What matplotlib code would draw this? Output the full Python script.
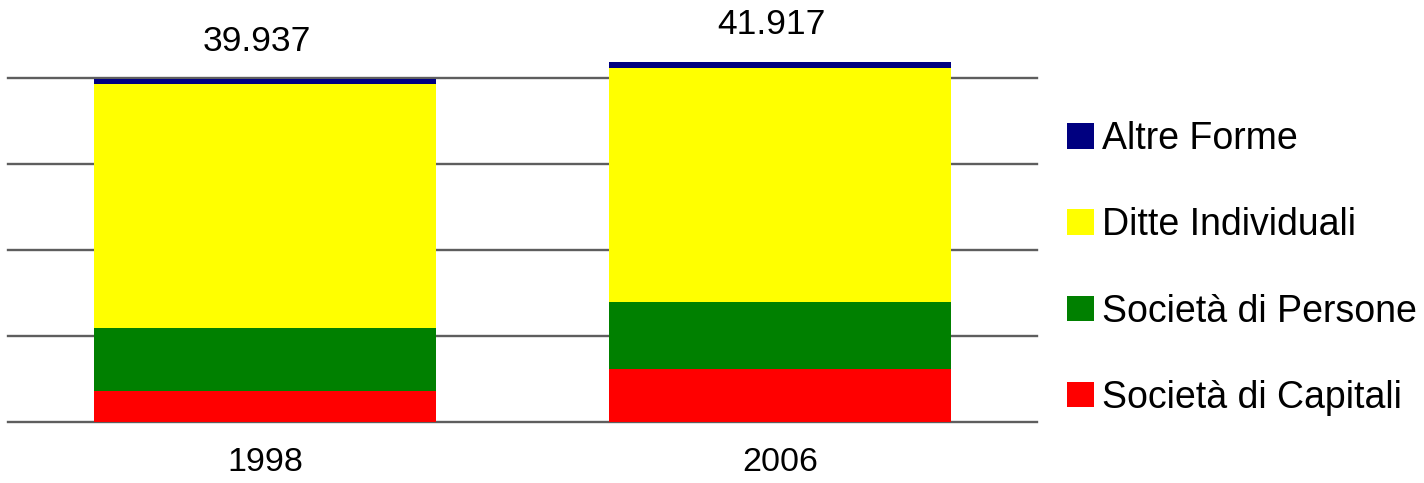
import matplotlib
matplotlib.use("Agg")
import matplotlib.pyplot as plt
import numpy as np

anni = ["1998", "2006"]
totali = ["39.937", "41.917"]
capitali = [3550, 6190]
persone = [7370, 7760]
ditte = [28390, 27230]
altre = [627, 737]

serie = [
    ("Società di Capitali", capitali, "#FF0000"),
    ("Società di Persone", persone, "#008000"),
    ("Ditte Individuali", ditte, "#FFFF00"),
    ("Altre Forme", altre, "#000080"),
]

plt.rcParams['font.family'] = ['Liberation Sans', 'DejaVu Sans']

fig = plt.figure(figsize=(14.24, 4.83), dpi=100)
ax = fig.add_axes([8/1424, 1 - 421.7/483, (1037 - 8)/1424, (421.7 - 8)/483])

x = np.arange(len(anni))
bottom = np.zeros(len(anni))
handles = []
for nome, vals, col in serie:
    b = ax.bar(x, vals, 0.665, bottom=bottom, color=col, label=nome, zorder=2)
    handles.append(b)
    bottom += np.array(vals)

# etichette dei totali sopra le barre
for i in range(len(anni)):
    ax.annotate(totali[i], (x[i], bottom[i]), xytext=(-6, 20), textcoords='offset points',
                ha='center', va='baseline', fontsize=25.5)

ax.set_xlim(-0.5, 1.5)
ax.set_ylim(0, 411.7 * 117.1)
ax.set_yticks([0, 10000, 20000, 30000, 40000])
ax.yaxis.grid(True, color='#5e5e5e', lw=1.7, zorder=1)
for gl in ax.yaxis.get_gridlines():
    gl.set_clip_on(False)
ax.set_yticklabels([])
ax.tick_params(axis='y', length=0)
ax.set_xticks(x)
ax.set_xticklabels(anni, fontsize=24.5)
ax.tick_params(axis='x', length=0, pad=18)
for s in ax.spines.values():
    s.set_visible(False)
ax.set_axisbelow(True)

fig.legend(handles[::-1], [s[0] for s in serie][::-1], loc='center left',
           bbox_to_anchor=(1067/1424, 1 - 268.5/483), frameon=False, fontsize=27,
           handlelength=0.72, handleheight=0.67, handletextpad=0.22,
           labelspacing=1.34, borderaxespad=0, borderpad=0)

fig.savefig("out.png", dpi=100)
